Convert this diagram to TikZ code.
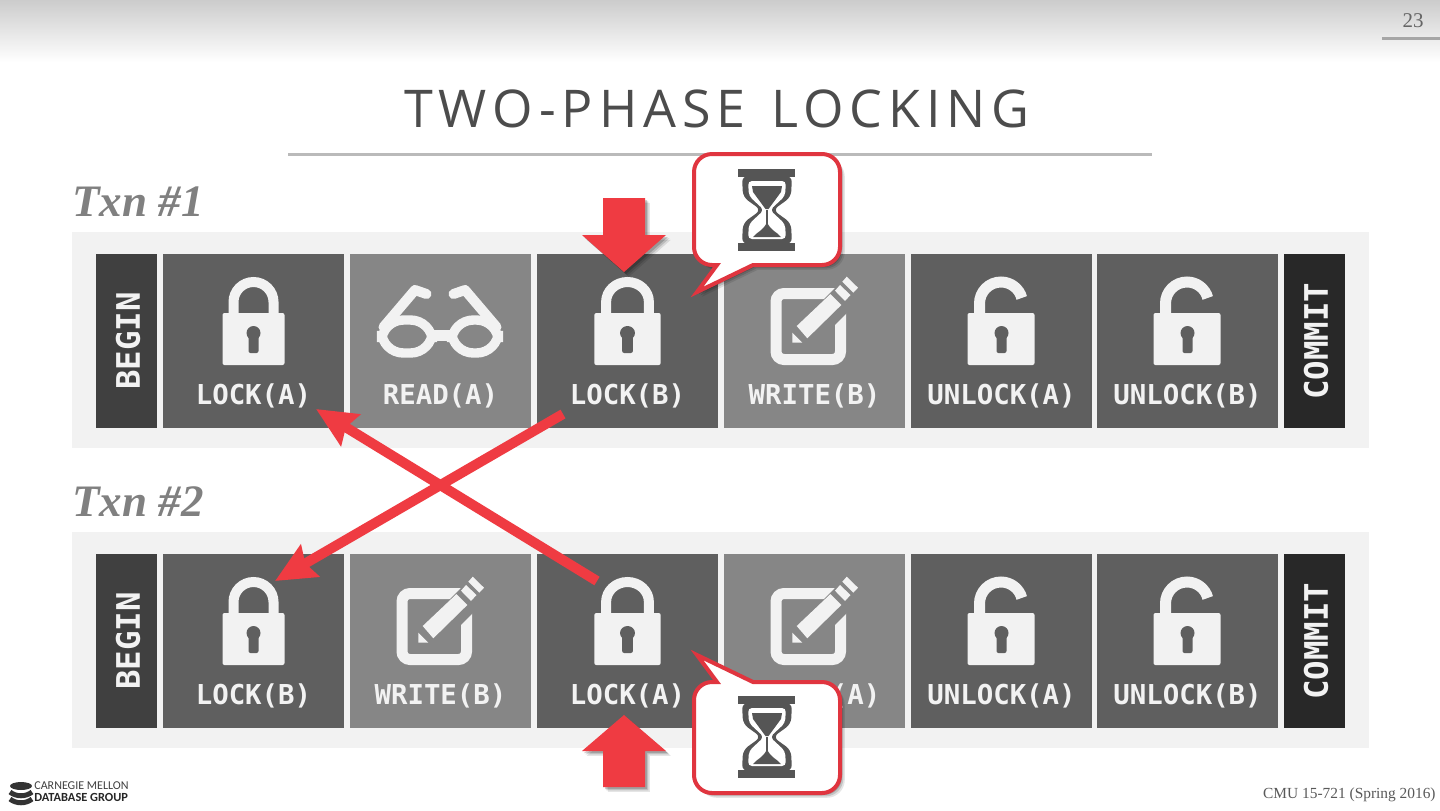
\documentclass[tikz,border=0pt]{standalone}
\usepackage{fontspec}
\usetikzlibrary{arrows.meta,shadows}
\setmainfont{Liberation Serif}
\newfontfamily\titlefont[LetterSpace=11.5,WordSpace=1.3]{Open Sans}
\newfontfamily\monofont{DejaVu Sans Mono}
\newfontfamily\logofont{Carlito}
\definecolor{cmuRed}{RGB}{239,59,66}
\definecolor{cmuEdge}{RGB}{224,53,63}
\definecolor{cellDark}{RGB}{95,95,95}
\definecolor{cellLight}{RGB}{134,134,134}
\definecolor{iconWhite}{RGB}{242,242,242}
\definecolor{beginGray}{RGB}{64,64,64}
\definecolor{commitGray}{RGB}{40,40,40}
\definecolor{waitGray}{RGB}{85,85,85}
\tikzset{
    panel/.style={fill=iconWhite},
    cellbase/.style={minimum width=90.5pt,minimum height=87pt,inner sep=0pt},
    darkcell/.style={cellbase,fill=cellDark},
    lightcell/.style={cellbase,fill=cellLight},
    beginbox/.style={minimum width=30.5pt,minimum height=87pt,inner sep=0pt,fill=beginGray},
    commitbox/.style={minimum width=30.5pt,minimum height=87pt,inner sep=0pt,fill=commitGray},
    celltext/.style={text=iconWhite,font=\monofont\bfseries\fontsize{13.7}{16}\selectfont,inner sep=0pt},
    sidetext/.style={text=iconWhite,font=\monofont\bfseries\fontsize{16.2}{19}\selectfont,inner sep=0pt,rotate=90,yshift=-.75pt},
    txntext/.style={text=black!50,font=\bfseries\itshape\fontsize{22.5}{26}\selectfont,inner sep=0pt,anchor=base west},
    softshadow/.style={
        drop shadow={shadow xshift=2.4pt,shadow yshift=-2.4pt,fill=black,opacity=.1},
        drop shadow={shadow xshift=1.7pt,shadow yshift=-1.7pt,fill=black,opacity=.14},
        drop shadow={shadow xshift=1pt,shadow yshift=-1pt,fill=black,opacity=.18}},
    swaparrow/.style={draw=cmuRed,line width=5pt,-{Stealth[length=20pt,width=18pt,inset=2.5pt]}},
    blockarrow/.style={fill=cmuRed,softshadow},
    calloutbox/.style={draw=cmuEdge,line width=2pt,fill=white,softshadow}
}
\newcommand{\LockIcon}[2]{%
\begin{scope}[shift={(#2)},xscale=#1]
    \draw[iconWhite,line width=5pt] (-20,-26) -- (-20,-39) arc (180:360:20) -- (20,-26);
    \fill[iconWhite,rounded corners=1pt] (-31,-28) rectangle (31,24);
    \fill[cellDark] (0,-8) circle (7);
    \fill[cellDark,rounded corners=1pt] (-5,-6) rectangle (5,12);
\end{scope}}
\newcommand{\NarrowLock}[1]{\LockIcon{1}{#1}}
\newcommand{\WideLock}[1]{\LockIcon{1.07}{#1}}
\newcommand{\OpenLock}[1]{%
\begin{scope}[shift={(#1)}]
    \draw[iconWhite,line width=5.5pt] (-22,-26) -- (-22,-37.5) arc (180:345:21.5);
    \fill[iconWhite,rounded corners=1pt] (-34,-28) rectangle (33,24);
    \fill[cellDark] (0,-8) circle (7);
    \fill[cellDark,rounded corners=1pt] (-5,-6) rectangle (5,12);
\end{scope}}
\newcommand{\WriteIcon}[1]{%
\begin{scope}[shift={(#1)}]
    \draw[iconWhite,line width=5.5pt,rounded corners=4pt] (-38.5,-47.5) rectangle (26,18.5);
    \draw[cellLight,line width=13pt] (-8,-6) -- (35,-49);
    \fill[iconWhite] (-17.8,-15) -- (16,-47) -- (26.8,-36) -- (-7.2,-2.7) -- cycle;
    \fill[iconWhite] (-22.2,-8.3) -- (-12.2,1.7) -- (-22.2,1.7) -- cycle;
    \fill[iconWhite] (20.5,-50.3) -- (25.5,-56) -- (36,-46) -- (30.5,-40) -- cycle;
    \fill[iconWhite] (27.8,-59.3) -- (32.2,-64.3) -- (43.5,-53.3) -- (38.8,-48.3) -- cycle;
\end{scope}}
\newcommand{\ReadIcon}[1]{%
\begin{scope}[shift={(#1)}]
    \draw[iconWhite,line width=4.7pt,rounded corners=11pt] (-59,-21) rectangle (-8,12);
    \draw[iconWhite,line width=4.7pt,rounded corners=11pt] (11,-21) rectangle (58,12);
    \fill[iconWhite] (-10,-11) rectangle (13,0);
    \draw[iconWhite,line width=5pt,line cap=round,line join=round] (-57,-14) -- (-25.5,-51) -- (-14,-47);
    \draw[iconWhite,line width=5pt,line cap=round,line join=round] (56,-14) -- (24.5,-51) -- (13,-47);
\end{scope}}
\newcommand{\WaitIcon}[1]{%
\begin{scope}[shift={(#1)}]
    \fill[waitGray] (-29,-41) rectangle (28,-33);
    \fill[waitGray] (-29,33) rectangle (28,41);
    \fill[waitGray,rounded corners=3pt] (-25,-34) -- (-24,-13) -- (-6,0) -- (-24,13) -- (-25,34) -- (25,34) -- (24,13) -- (6,0) -- (24,-13) -- (25,-34) -- cycle;
    \fill[white,rounded corners=2pt] (-19,-29) -- (-18,-14) -- (-3,0) -- (-18,14) -- (-19,29) -- (19,29) -- (18,14) -- (3,0) -- (18,-14) -- (19,-29) -- cycle;
    \fill[waitGray] (-15,-24) -- (15,-24) -- (14,-18) -- (1.5,-1) -- (-1.5,-1) -- (-14,-18) -- cycle;
    \fill[waitGray] (-1,0) rectangle (1,14);
    \fill[waitGray] (0,12) .. controls (3,20) and (10,22) .. (14,27) -- (-14,27) .. controls (-10,22) and (-3,20) .. (0,12) -- cycle;
\end{scope}}
\begin{document}
\begin{tikzpicture}[x=0.5pt,y=-0.5pt]
\useasboundingbox (0,0) rectangle (1440,810);
\fill[white] (0,0) rectangle (1440,810);
% header
\shade[top color=black!20,bottom color=white] (0,0) rectangle (1440,62);
\draw[black!35,line width=1.5pt] (1382,38) -- (1440,38);
\node[text=black!60,font=\fontsize{10.5}{12}\selectfont,inner sep=0pt] (pageno) at (1413,21) {23};
\node[text=black!70,font=\titlefont\fontsize{26}{30}\selectfont,inner sep=0pt] (title) at (717,109) {TWO-PHASE LOCKING};
\draw[black!27,line width=1.5pt] (288,154) -- (1152,154);
% txn 1
\node[txntext] (txnOne) at (72,216) {Txn \#1};
\fill[panel] (72,232) rectangle (1369,448);
\node[beginbox] (beginOne) at (126.5,341) {};
\node[sidetext] (beginOneText) at (beginOne) {BEGIN};
\node[commitbox] (commitOne) at (1314.5,341) {};
\node[sidetext] (commitOneText) at (commitOne) {COMMIT};
\foreach \nm/\cx/\sty/\lbl/\icon in {
    lockAOne/253.5/darkcell/LOCK(A)/\NarrowLock,
    readAOne/440.5/lightcell/READ(A)/\ReadIcon,
    lockBOne/627.5/darkcell/LOCK(B)/\WideLock,
    writeBOne/814.5/lightcell/WRITE(B)/\WriteIcon,
    unlockAOne/1001.5/darkcell/UNLOCK(A)/\OpenLock,
    unlockBOne/1187.5/darkcell/UNLOCK(B)/\OpenLock}{
    \node[\sty] (\nm) at (\cx,341) {};
    \node[celltext] (\nm Text) at ([yshift=-27.6pt]\nm) {\lbl};
    \icon{\nm}
}
% txn 2
\node[txntext] (txnTwo) at (72,516) {Txn \#2};
\fill[panel] (72,532) rectangle (1369,748);
\node[beginbox] (beginTwo) at (126.5,641) {};
\node[sidetext] (beginTwoText) at (beginTwo) {BEGIN};
\node[commitbox] (commitTwo) at (1314.5,641) {};
\node[sidetext] (commitTwoText) at (commitTwo) {COMMIT};
\foreach \nm/\cx/\sty/\lbl/\icon in {
    lockBTwo/253.5/darkcell/LOCK(B)/\NarrowLock,
    writeBTwo/440.5/lightcell/WRITE(B)/\WriteIcon,
    lockATwo/627.5/darkcell/LOCK(A)/\WideLock,
    writeATwo/814.5/lightcell/WRITE(A)/\WriteIcon,
    unlockATwo/1001.5/darkcell/UNLOCK(A)/\OpenLock,
    unlockBTwo/1187.5/darkcell/UNLOCK(B)/\OpenLock}{
    \node[\sty] (\nm) at (\cx,641) {};
    \node[celltext] (\nm Text) at ([yshift=-27.6pt]\nm) {\lbl};
    \icon{\nm}
}
% deadlock arrows
\coordinate (holdB) at (563,414);
\coordinate (wantB) at (275,581);
\coordinate (holdA) at (597,581);
\coordinate (wantA) at (316,409);
\draw[swaparrow] (holdB) -- (wantB);
\draw[swaparrow] (holdA) -- (wantA);
% blocked markers
\path[blockarrow] (603,198) -- (645,198) -- (645,235) -- (666,235) -- (624,272) -- (582,235) -- (603,235) -- cycle;
\path[blockarrow] (603,787) -- (645,787) -- (645,751) -- (666,751) -- (624,715) -- (582,751) -- (603,751) -- cycle;
% callouts
\path[calloutbox] (717,265) [rounded corners=9pt] -- (694,265) -- (694,154) -- (840,154) -- (840,265) [sharp corners] -- (753,265) -- (697,292) -- cycle;
\coordinate (waitOne) at (767,210);
\WaitIcon{waitOne}
\path[calloutbox] (717,682) [rounded corners=9pt] -- (694,682) -- (694,793) -- (840,793) -- (840,682) [sharp corners] -- (753,682) -- (697,655) -- cycle;
\coordinate (waitTwo) at (767,737);
\WaitIcon{waitTwo}
% footer
\fill[black!80] (21,786) ellipse (11 and 4);
\draw[black!80,line width=2.5pt] (10,792) .. controls (16,797) and (26,797) .. (32,792);
\draw[black!80,line width=2.5pt] (10,799) .. controls (16,804) and (26,804) .. (32,799);
\node[text=black!75,font=\logofont\fontsize{6}{7}\selectfont,inner sep=0pt,anchor=west] (logoTop) at (34,786) {CARNEGIE MELLON};
\node[text=black!85,font=\logofont\bfseries\fontsize{6.2}{7}\selectfont,inner sep=0pt,anchor=west] (logoBottom) at (34,797) {DATABASE GROUP};
\node[text=black!65,font=\fontsize{7.7}{9}\selectfont,inner sep=0pt,anchor=east] (course) at (1436,795) {CMU 15-721 (Spring 2016)};
\end{tikzpicture}
\end{document}
